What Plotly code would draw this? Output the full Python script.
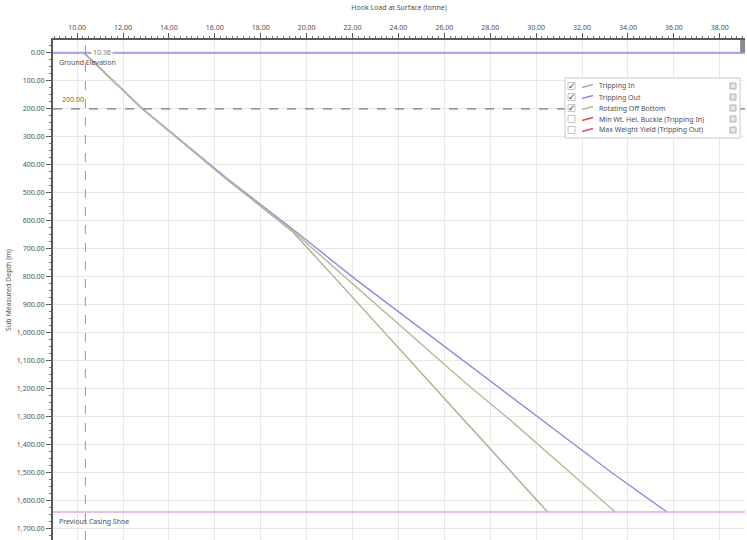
import plotly.graph_objects as go

# Measured depth stations (m) and hook load at surface (tonne) for each operation
depth_m = [0, 200, 450, 640, 810, 990, 1170, 1310, 1500, 1640]
tripping_in = [10.30, 12.85, 16.50, 19.40, 21.30, 23.30, 25.30, 26.85, 28.95, 30.50]
tripping_out = [10.30, 12.85, 16.55, 19.55, 22.15, 25.05, 28.00, 30.25, 33.30, 35.70]
rotating_off_bottom = [10.30, 12.85, 16.50, 19.45, 21.80, 24.30, 26.80, 28.85, 31.50, 33.45]

series_names = [
    "Tripping In",
    "Tripping Out",
    "Rotating Off Bottom",
    "Min Wt. Hel. Buckle (Tripping In)",
    "Max Weight Yield (Tripping Out)",
]
series_colors = ["#9db88c", "#8c8ce0", "#b9b99a", "#e04848", "#e0507a"]
series_checked = [True, True, True, False, False]

ground_elevation_m = 0
casing_shoe_m = 1640
cursor_load = 10.36
cursor_depth = 200

FONT = "Noto Sans"
TXT = "#505050"

# plot-area geometry (px) used to place the legend panel
W, H = 747, 540
ML, MR, MT, MB = 53, 2, 40, 0
PW, PH = W - ML - MR, H - MT - MB


def px_x(px):
    return (px - ML) / PW


def px_y(py):
    return 1 - (py - MT) / PH


fig = go.Figure()

curves = [tripping_in, tripping_out, rotating_off_bottom, [], []]
for name, color, loads in zip(series_names, series_colors, curves):
    fig.add_trace(go.Scatter(
        x=loads if loads else [None],
        y=depth_m[:len(loads)] if loads else [None],
        mode="lines",
        name=name,
        line=dict(color=color, width=1.4),
        hoverinfo="x+y+name",
        showlegend=False,
    ))

shapes = [
    # ground elevation
    dict(type="line", xref="paper", x0=0, x1=1, y0=ground_elevation_m, y1=ground_elevation_m,
         line=dict(color="#a9a9ec", width=2.2)),
    # previous casing shoe
    dict(type="line", xref="paper", x0=0, x1=1, y0=casing_shoe_m, y1=casing_shoe_m,
         line=dict(color="#e0a8e0", width=1.3)),
    # cursor crosshair
    dict(type="line", yref="paper", x0=cursor_load, x1=cursor_load, y0=0, y1=1,
         line=dict(color="#9a9a9a", width=1, dash="dash")),
    dict(type="line", xref="paper", x0=0, x1=1, y0=cursor_depth, y1=cursor_depth,
         line=dict(color="#7a7a7a", width=1.3, dash="dash")),
    # corner handle
    dict(type="rect", xref="paper", yref="paper", x0=0.993, x1=1.0, y0=0.975, y1=1.0,
         fillcolor="#8a8a8a", line=dict(width=0)),
]

annotations = [
    dict(x=cursor_load, y=ground_elevation_m, text=f"{cursor_load:.2f}", showarrow=False,
         xanchor="left", yanchor="middle", xshift=6, bgcolor="white",
         font=dict(family=FONT, size=7, color="#7d7d4a")),
    dict(xref="paper", x=0.029, y=cursor_depth, text=f"{cursor_depth:.2f}", showarrow=False,
         xanchor="center", yanchor="bottom", yshift=3,
         font=dict(family=FONT, size=7, color="#6f6f4a")),
    dict(xref="paper", x=0.006, y=ground_elevation_m, text="Ground Elevation", showarrow=False,
         xanchor="left", yanchor="top", yshift=-3,
         font=dict(family=FONT, size=7, color=TXT)),
    dict(xref="paper", x=0.006, y=casing_shoe_m, text="Previous Casing Shoe", showarrow=False,
         xanchor="left", yanchor="top", yshift=-3,
         font=dict(family=FONT, size=7, color=TXT)),
]

# legend panel with check boxes
LX0, LX1, LY0, LY1 = 565, 740, 78, 138
ROW0, ROW_STEP = 86, 11
shapes.append(dict(type="rect", xref="paper", yref="paper",
                   x0=px_x(LX0), x1=px_x(LX1), y0=px_y(LY1), y1=px_y(LY0),
                   fillcolor="white", line=dict(color="#c8c8c8", width=1), layer="above"))
for i, (name, color, checked) in enumerate(zip(series_names, series_colors, series_checked)):
    ry = ROW0 + i * ROW_STEP
    # check box
    shapes.append(dict(type="rect", xref="paper", yref="paper",
                       x0=px_x(568), x1=px_x(575), y0=px_y(ry + 3.5), y1=px_y(ry - 3.5),
                       fillcolor="white", line=dict(color="#c4c4c4", width=1), layer="above"))
    if checked:
        annotations.append(dict(xref="paper", yref="paper", x=px_x(571.5), y=px_y(ry),
                                text="✓", showarrow=False, xanchor="center", yanchor="middle",
                                font=dict(family="DejaVu Sans", size=9, color="#404040")))
    # series swatch
    shapes.append(dict(type="line", xref="paper", yref="paper",
                       x0=px_x(582), x1=px_x(593), y0=px_y(ry + 1.5), y1=px_y(ry - 1.5),
                       line=dict(color=color, width=1.4), layer="above"))
    annotations.append(dict(xref="paper", yref="paper", x=px_x(597), y=px_y(ry),
                            text=name, showarrow=False, xanchor="left", yanchor="middle",
                            font=dict(family=FONT, size=7, color=TXT)))
    # row settings icon
    shapes.append(dict(type="rect", xref="paper", yref="paper",
                       x0=px_x(730), x1=px_x(736), y0=px_y(ry + 3), y1=px_y(ry - 3),
                       fillcolor="#e4e4e4", line=dict(color="#b0b0b0", width=1), layer="above"))

fig.update_layout(
    width=W, height=H,
    margin=dict(l=ML, r=MR, t=MT, b=MB),
    paper_bgcolor="white", plot_bgcolor="white",
    font=dict(family=FONT, size=7, color=TXT),
    shapes=shapes,
    annotations=annotations,
    showlegend=False,
    xaxis=dict(
        side="top", range=[8.95, 39.1], dtick=2, tickformat=".2f",
        showgrid=True, gridcolor="#e8e8e8", gridwidth=1,
        showline=True, linecolor="#5a5a5a", linewidth=2,
        ticks="outside", ticklen=5, tickcolor="#5a5a5a",
        minor=dict(dtick=0.25, ticks="outside", ticklen=2, tickcolor="#777", showgrid=False),
        zeroline=False,
        title=dict(text="Hook Load at Surface (tonne)", font=dict(family=FONT, size=7, color=TXT),
                   standoff=12),
        tickfont=dict(family=FONT, size=7, color=TXT),
    ),
    yaxis=dict(
        range=[1740, -46], dtick=100, tickformat=",.2f",
        showgrid=True, gridcolor="#e8e8e8", gridwidth=1,
        showline=True, linecolor="#5a5a5a", linewidth=2,
        ticks="outside", ticklen=5, tickcolor="#5a5a5a",
        minor=dict(dtick=25, ticks="outside", ticklen=2, tickcolor="#777", showgrid=False),
        zeroline=False,
        title=dict(text="Sub Measured Depth (m)", font=dict(family=FONT, size=7, color=TXT),
                   standoff=4),
        tickfont=dict(family=FONT, size=7, color=TXT),
    ),
)

fig.write_html("out.html")
